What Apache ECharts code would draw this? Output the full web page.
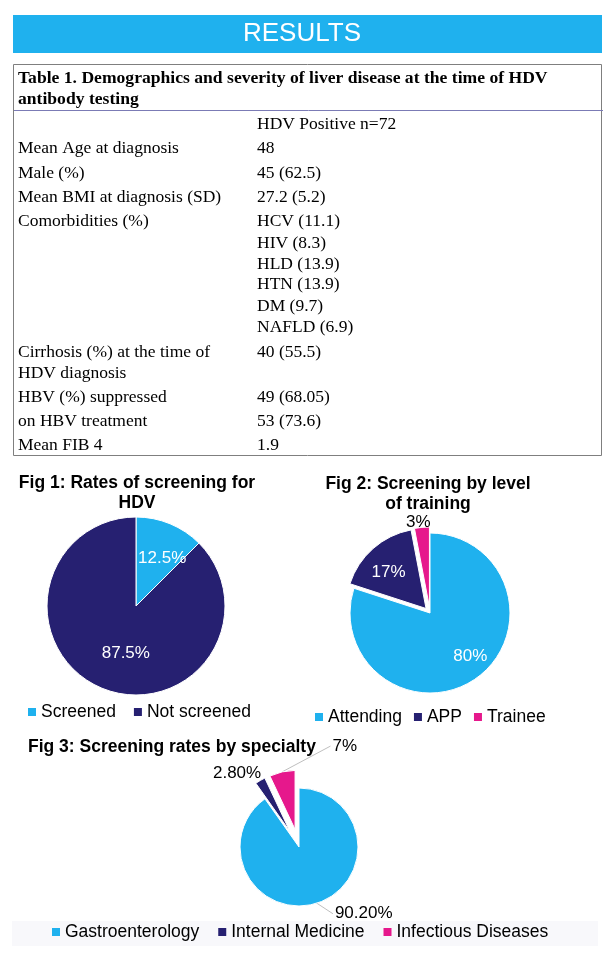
<!DOCTYPE html>
<html><head><meta charset="utf-8">
<script src="https://cdn.jsdelivr.net/npm/echarts@6/dist/echarts.min.js"></script>
<style>html,body{margin:0;padding:0;background:#fff}#c{width:611px;height:974px}</style>
</head><body><div id="c"></div>
<script>
// ---------- DATA ----------
const headerTitle = 'RESULTS';
const tableTitle = ['Table 1. Demographics and severity of liver disease at the time of HDV', 'antibody testing'];
const tableColHeader = 'HDV Positive n=72';
const rowLabels = ['Mean Age at diagnosis','Male (%)','Mean BMI at diagnosis (SD)','Comorbidities (%)','','','','','','Cirrhosis (%) at the time of','HDV diagnosis','HBV (%) suppressed','on HBV treatment','Mean FIB 4'];
const rowValues = ['48','45 (62.5)','27.2 (5.2)','HCV (11.1)','HIV (8.3)','HLD (13.9)','HTN (13.9)','DM (9.7)','NAFLD (6.9)','40 (55.5)','','49 (68.05)','53 (73.6)','1.9'];

const fig1Title = 'Fig 1: Rates of screening for\nHDV';
const fig1Categories = ['Screened','Not screened'];
const fig1Values = [12.5, 87.5];

const fig2Title = 'Fig 2: Screening by level\nof training';
const fig2Categories = ['Attending','APP','Trainee'];
const fig2Values = [80, 17, 3];

const fig3Title = 'Fig 3: Screening rates by specialty';
const fig3Categories = ['Gastroenterology','Internal Medicine','Infectious Diseases'];
const fig3Values = [90.2, 2.8, 7];
const fig3LabelText = ['90.20%','2.80%','7%'];

// ---------- STYLE / LAYOUT ----------
const C_BLUE = '#1FB1EE', C_NAVY = '#262071', C_PINK = '#E6188C';
const SERIF = '"Liberation Serif", "Times New Roman", serif';
const SANS = '"Liberation Sans", Arial, sans-serif';
const rowY = [148,173,197,221,243,264,284,306,327,352,373,397,421,445];
const colHeaderY = 124;
const labelX = 18, valueX = 257;

const fig1Tweak = [[8,-4],[8,3]];
const fig2Tweak = [[15,9],[-9,-4],[14,-1]];
const fig3Tweak = [[10,1],[11,1],[82,-16]];

// shift each label from its default place; re-route the leader line to the moved label
function tweak(arr){
  return function(p){
    const t = arr[p.dataIndex] || [0,0];
    const out = {dx:t[0], dy:t[1]};
    const pts = p.labelLinePoints;
    if (pts && pts.length) {
      const r = p.labelRect;
      const rx = r.x + t[0], ry = r.y + t[1];
      const s = pts[0];
      const ex = s[0] < rx ? rx - 2 : (s[0] > rx + r.width ? rx + r.width + 2 : s[0]);
      const ey = ry + r.height / 2;
      out.labelLinePoints = [[s[0], s[1]], [ex, ey], [ex, ey]];
    }
    return out;
  };
}

const graphics = [];
graphics.push({type:'rect', shape:{x:13,y:15,width:589,height:38}, style:{fill:C_BLUE}, silent:true});
graphics.push({type:'text', style:{text:headerTitle, x:302, y:34, font:'26px '+SANS, fill:'#fff', textAlign:'center', textVerticalAlign:'middle'}, silent:true});
graphics.push({type:'rect', shape:{x:13.5,y:64.5,width:588,height:391}, style:{fill:'none', stroke:'#7f7f7f', lineWidth:1}, silent:true});
graphics.push({type:'line', shape:{x1:14,y1:110.5,x2:603,y2:110.5}, style:{stroke:'#7b7bb5', lineWidth:1}, silent:true});
tableTitle.forEach((t,i)=>graphics.push({type:'text', style:{text:t, x:labelX, y:[78,99][i], font:'bold 17.6px '+SERIF, fill:'#000', textVerticalAlign:'middle'}, silent:true}));
graphics.push({type:'text', style:{text:tableColHeader, x:valueX, y:colHeaderY, font:'17.5px '+SERIF, fill:'#000', textVerticalAlign:'middle'}, silent:true});
rowLabels.forEach((t,i)=>{ if(t) graphics.push({type:'text', style:{text:t, x:labelX, y:rowY[i], font:'17.5px '+SERIF, fill:'#000', textVerticalAlign:'middle'}, silent:true}); });
rowValues.forEach((t,i)=>{ if(t) graphics.push({type:'text', style:{text:t, x:valueX, y:rowY[i], font:'17.5px '+SERIF, fill:'#000', textVerticalAlign:'middle'}, silent:true}); });
graphics.push({type:'rect', shape:{x:12,y:921,width:586,height:25}, style:{fill:'#F8F8FB'}, silent:true, z:-10});

const titleStyle = {fontFamily:SANS, fontWeight:'bold', fontSize:17.5, lineHeight:20, color:'#000'};
const legendText = {fontFamily:SANS, fontSize:17.5, lineHeight:20, color:'#000'};
const legendBase = {padding:0, itemWidth:8, itemHeight:8, icon:'rect', itemStyle:{borderWidth:0}, textStyle:legendText, selectedMode:false};
const pieLabelInside = {show:true, position:'inside', color:'#fff', fontFamily:SANS, fontSize:17};

const chart = echarts.init(document.getElementById('c'), null, {renderer:'canvas'});
chart.setOption({
  animation:false,
  backgroundColor:'#fff',
  graphic: graphics,
  title:[
    {text:fig1Title, left:137, top:473, textAlign:'center', padding:0, textStyle:titleStyle},
    {text:fig2Title, left:428, top:474, textAlign:'center', padding:0, textStyle:titleStyle},
    {text:fig3Title, left:28, top:737, padding:0, textStyle:titleStyle}
  ],
  legend:[
    Object.assign({data:fig1Categories, left:28, top:702, itemGap:18}, legendBase),
    Object.assign({data:fig2Categories, left:315, top:707, itemGap:12}, legendBase),
    Object.assign({data:fig3Categories, left:52, top:922, itemGap:19}, legendBase)
  ],
  series:[
    {type:'pie', center:[136,606], radius:89, startAngle:90, clockwise:true, avoidLabelOverlap:false,
     color:[C_BLUE, C_NAVY],
     itemStyle:{borderColor:'#fff', borderWidth:1},
     label:Object.assign({}, pieLabelInside, {formatter:p=>p.value.toFixed(1)+'%'}),
     labelLine:{show:false},
     labelLayout:tweak(fig1Tweak),
     emphasis:{disabled:true},
     data:fig1Categories.map((n,i)=>({name:n, value:fig1Values[i]}))},
    {type:'pie', center:[430,613], radius:80, startAngle:90, clockwise:true, avoidLabelOverlap:false,
     selectedMode:'multiple', selectedOffset:6,
     color:[C_BLUE, C_NAVY, C_PINK],
     itemStyle:{borderColor:'#fff', borderWidth:1},
     label:Object.assign({}, pieLabelInside, {formatter:p=>p.value+'%'}),
     labelLine:{show:false, length:4, length2:0},
     labelLayout:tweak(fig2Tweak),
     emphasis:{disabled:true},
     data:fig2Categories.map((n,i)=>{
       const d = {name:n, value:fig2Values[i]};
       if(i>0) d.selected = true;
       if(i===2) d.label = {position:'outside', color:'#000'};
       return d;
     })},
    {type:'pie', center:[299,847], radius:59, startAngle:90, clockwise:true, avoidLabelOverlap:false,
     selectedMode:'multiple', selectedOffset:18,
     color:[C_BLUE, C_NAVY, C_PINK],
     itemStyle:{borderColor:'#fff', borderWidth:1},
     label:{show:true, position:'outside', color:'#000', fontFamily:SANS, fontSize:17, formatter:p=>fig3LabelText[p.dataIndex]},
     labelLine:{show:true, length:10, length2:0, lineStyle:{color:'#bfbfbf', width:1}},
     labelLayout:tweak(fig3Tweak),
     emphasis:{disabled:true},
     data:fig3Categories.map((n,i)=>{
       const d = {name:n, value:fig3Values[i]};
       if(i>0) d.selected = true;
       if(i===1) d.labelLine = {show:false};
       return d;
     })}
  ]
});
</script></body></html>
